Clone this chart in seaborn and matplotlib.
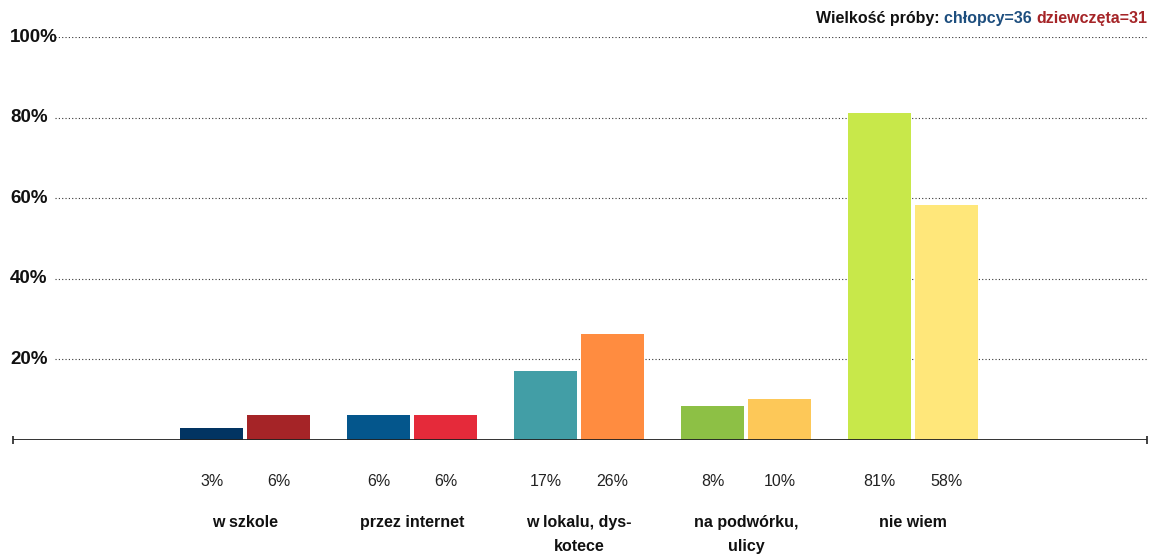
import pandas as pd
import matplotlib.pyplot as plt
import matplotlib.transforms as mtransforms
import seaborn as sns

categories = ["w szkole", "przez internet", "w lokalu, dys-\nkotece", "na podwórku,\nulicy", "nie wiem"]
chlopcy = [3.1, 6.3, 17.2, 8.4, 81.1]
dziewczeta = [6.3, 6.3, 26.4, 10.2, 58.2]
kolory_chlopcy = ["#023462", "#04568C", "#429EA6", "#8DC045", "#C8E84A"]
kolory_dziewczeta = ["#A52427", "#E52A3A", "#FF8C40", "#FDC858", "#FFE77A"]
yticks = [20, 40, 60, 80, 100]

df = pd.DataFrame({
    "kategoria": categories * 2,
    "grupa": ["chłopcy"] * 5 + ["dziewczęta"] * 5,
    "procent": chlopcy + dziewczeta,
})

sns.set_theme(style="white")
plt.rcParams['font.family'] = ['Liberation Sans', 'DejaVu Sans']

fig = plt.figure(figsize=(11.49, 5.56), dpi=100)
ax = fig.add_axes([13 / 1149, 116 / 556, 1134 / 1149, 403 / 556])

sns.barplot(data=df, x="kategoria", y="procent", hue="grupa", order=categories,
            width=0.802, gap=0.059, legend=False, ax=ax, saturation=1)

# kolory per słupek
for cont, kol in zip(ax.containers, [kolory_chlopcy, kolory_dziewczeta]):
    for bar, c in zip(cont, kol):
        bar.set_facecolor(c)
        bar.set_edgecolor("none")

ax.set_xlim(-1.39, 5.40)
ax.set_ylim(0, 100)
ax.set_xticks([])
ax.set_yticks([])
ax.set(xlabel="", ylabel="")
sns.despine(ax=ax, left=True, bottom=True)

# linie siatki kropkowane + etykiety osi y
gx0 = (55 - 13) / 1134
for v in yticks:
    ax.axhline(v, xmin=gx0, xmax=1, color="#333333", lw=0.8, ls=(0, (1, 2)), zorder=0)
    ax.text(-3 / 1134, v, f"{v}%", transform=ax.get_yaxis_transform(), ha="left", va="center",
            fontsize=13.5, fontweight="bold", color="#111111", clip_on=False)

# oś bazowa
ax.axhline(0, color="#222222", lw=1.3, zorder=5)
ax.plot([0, 1], [0, 0], transform=ax.get_yaxis_transform(), marker="|", ls="none",
        color="#222222", ms=6, mew=1.2, clip_on=False, zorder=5)

# etykiety wartości i kategorii
tr = mtransforms.blended_transform_factory(ax.transData, ax.transAxes)
for cont, vals in zip(ax.containers, [chlopcy, dziewczeta]):
    for bar, v in zip(cont, vals):
        xc = bar.get_x() + bar.get_width() / 2
        ax.text(xc, -0.104, f"{round(v)}%", transform=tr, ha="center", va="center",
                fontsize=11.5, color="#222222")
for i, cat in enumerate(categories):
    ax.text(i, -0.186, cat, transform=tr, ha="center", va="top", fontsize=11.5,
            fontweight="bold", color="#111111", linespacing=1.75)

# nagłówek z wielkością próby
t3 = fig.text(1147 / 1149, 1 - 18 / 556, "dziewczęta=31", ha="right", va="center",
              fontsize=11.5, fontweight="bold", color="#A52427")
t2 = ax.annotate("chłopcy=36 ", xy=(0, 0), xycoords=t3, ha="right", va="bottom",
                 fontsize=11.5, fontweight="bold", color="#1D4E7E")
t1 = ax.annotate("Wielkość próby: ", xy=(0, 0), xycoords=t2, ha="right", va="bottom",
                 fontsize=11.5, fontweight="bold", color="#111111")

plt.savefig("out.png", dpi=100)
plt.close()
